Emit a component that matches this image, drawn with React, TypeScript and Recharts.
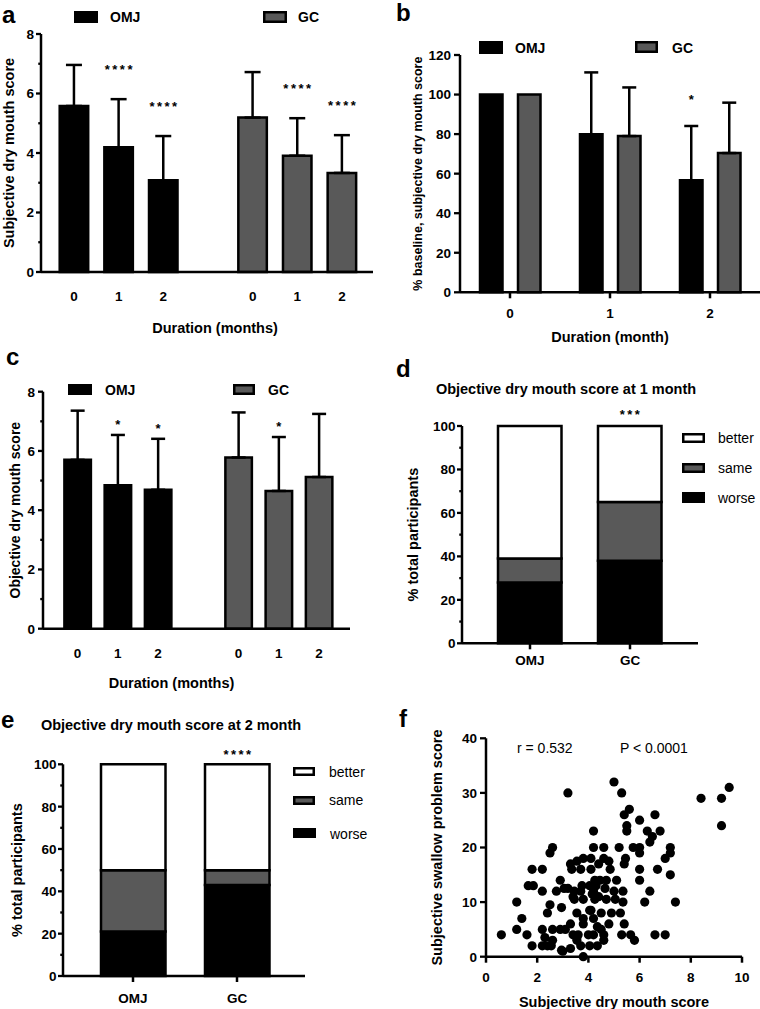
import React from "react";
import {
  Bar,
  BarChart,
  Cell,
  ErrorBar,
  LabelList,
  Scatter,
  ScatterChart,
  XAxis,
  YAxis,
} from "recharts";

const FONT = "'Liberation Sans', Arial, Helvetica, sans-serif";
const BLACK = "#000000";
const GREY = "#595959";

// a, c: OMJ months 0-2, empty slot, GC months 0-2
const durationLabels = ["0", "1", "2", "", "0", "1", "2"];
const durationGroup = ["OMJ", "OMJ", "OMJ", "", "GC", "GC", "GC"];

const subjectiveMean = [5.58, 4.19, 3.08, null, 5.19, 3.91, 3.33];
const subjectiveSd = [1.38, 1.62, 1.49, null, 1.53, 1.26, 1.27];
const subjectiveSig = ["", "****", "****", "", "", "****", "****"];

const objectiveMean = [5.7, 4.84, 4.69, null, 5.78, 4.65, 5.12];
const objectiveSd = [1.66, 1.7, 1.72, null, 1.52, 1.82, 2.13];
const objectiveSig = ["", "*", "*", "", "", "*", ""];

// b: % of baseline
const baselineMonths = ["0", "1", "2"];
const baselineOmj = [100, 79.9, 56.6];
const baselineOmjSd = [0, 31.3, 27.5];
const baselineGc = [100, 79.0, 70.4];
const baselineGcSd = [0, 24.6, 25.5];
const baselineSig = ["", "", "*"];

// d, e: change in objective score
const groups = ["OMJ", "GC"];
const month1Worse = [28, 38];
const month1Same = [11, 27];
const month1Better = [61, 35];
const month1Sig = ["", "***"];
const month2Worse = [21, 43];
const month2Same = [29, 7];
const month2Better = [50, 50];
const month2Sig = ["", "****"];

// f: dry mouth vs swallow problem
const dryMouth = [
  5.0, 3.2, 5.3, 8.4, 9.2, 9.5, 5.6, 5.4, 6.6, 6.0, 5.5, 9.2, 4.2, 5.5, 6.3, 6.8, 6.5, 6.4,
  2.6, 4.2, 4.6, 5.2, 5.75, 6.0, 7.2, 2.5, 6.0, 7.2, 3.8, 4.1, 4.6, 5.45, 7.0, 3.3, 3.55,
  4.4, 4.8, 5.4, 1.8, 2.2, 3.35, 3.7, 4.1, 4.85, 6.0, 6.7, 7.2, 2.9, 4.25, 4.45, 4.7, 5.1,
  6.0, 1.65, 1.85, 3.75, 4.3, 4.65, 2.2, 2.75, 3.05, 3.2, 3.45, 3.7, 4.05, 4.2, 5.0, 5.35,
  6.4, 4.15, 4.4, 3.45, 3.8, 1.2, 4.25, 4.7, 5.05, 5.35, 6.2, 7.4, 2.4, 2.5, 2.95, 4.05,
  4.5, 4.9, 5.25, 3.55, 1.4, 3.8, 4.2, 3.3, 3.8, 4.35, 4.8, 5.4, 1.2, 2.2, 2.6, 2.9, 3.1,
  4.5, 0.6, 1.6, 3.4, 3.6, 4.2, 4.6, 5.3, 5.65, 6.6, 7.0, 2.3, 2.6, 3.55, 4.6, 5.8, 1.8,
  2.2, 2.4, 2.55, 3.7, 4.05, 4.35, 3.0, 3.3, 3.8, 2.95, 3.55, 4.0, 3.4, 4.1,
];
const swallowProblem = [
  32, 30, 30, 29, 29, 31, 27, 26, 26, 25, 24, 24, 23, 23, 23, 23, 22, 21,
  20, 20, 20, 20, 20, 20, 20, 19, 19, 19, 18, 18, 18, 18, 18, 17, 17.5,
  17, 17.5, 17, 16, 16, 16, 16, 16, 16, 16, 16, 15, 14, 14, 14, 14, 14,
  14, 13, 13, 13, 13, 12.5, 12, 12, 12.5, 12.5, 12, 12, 13, 12, 12, 12,
  12, 11.5, 11, 10.5, 10.5, 10, 10.5, 10.5, 10.5, 10, 10, 10, 8, 9.5, 9, 8.5,
  8, 8, 8, 8, 7, 7, 7, 6, 6, 5.5, 6, 6, 5, 5, 5, 5, 5,
  5, 4, 4, 4, 4, 4, 4, 4, 4, 4, 4, 3.5, 3, 3.5, 3, 3, 2,
  2, 2, 2, 2, 2, 2, 1, 1.5, 0, 1.2, 3, 4, 11, 8.5,
];

const toErr = (sd: number | null) => (sd ? [0, sd] : 0);

// each row carries its slot number so the star labels can find their own entry
const subjectiveRows = durationLabels.map((label, i) => ({
  slot: i,
  label,
  group: durationGroup[i],
  mean: subjectiveMean[i],
  err: toErr(subjectiveSd[i]),
}));

const objectiveRows = durationLabels.map((label, i) => ({
  slot: i,
  label,
  group: durationGroup[i],
  mean: objectiveMean[i],
  err: toErr(objectiveSd[i]),
}));

const baselineRows = baselineMonths.map((month, i) => ({
  slot: i,
  month,
  omj: baselineOmj[i],
  omjErr: toErr(baselineOmjSd[i]),
  gc: baselineGc[i],
  gcErr: toErr(baselineGcSd[i]),
}));

const month1Rows = groups.map((group, i) => ({
  slot: i,
  group,
  worse: month1Worse[i],
  same: month1Same[i],
  better: month1Better[i],
}));

const month2Rows = groups.map((group, i) => ({
  slot: i,
  group,
  worse: month2Worse[i],
  same: month2Same[i],
  better: month2Better[i],
}));

const scatterRows = dryMouth.map((x, i) => ({ x, y: swallowProblem[i] }));

const axisLine = { stroke: BLACK, strokeWidth: 2.5 };
const tickLine = { stroke: BLACK, strokeWidth: 2.5 };
const tickText = { fill: BLACK, fontSize: 13.5, fontWeight: 700, fontFamily: FONT };
const titleText = { fill: BLACK, fontSize: 14.5, fontWeight: 700, fontFamily: FONT };

const range = (from: number, to: number, step: number) => {
  const out: number[] = [];
  for (let v = from; v <= to + 1e-9; v += step) out.push(v);
  return out;
};

// y ticks with labels on the major step, short unlabeled ticks between
const leftTick = (labelEvery: number, size: number, gap: number) => (p: any) => {
  const v = Number(p.payload.value);
  const major = Math.abs(v / labelEvery - Math.round(v / labelEvery)) < 1e-6;
  const ax = p.x + size + gap;
  const len = major ? size : size * 0.55;
  return (
    <g>
      <line x1={ax - len} x2={ax} y1={p.y} y2={p.y} stroke={BLACK} strokeWidth={2.3} />
      {major && (
        <text
          x={p.x}
          y={p.y}
          dy="0.36em"
          textAnchor="end"
          fontSize={13.5}
          fontWeight={700}
          fontFamily={FONT}
          fill={BLACK}
        >
          {v}
        </text>
      )}
    </g>
  );
};

// significance stars above the error bar (height read through the bar's own scale)
const starLabel =
  (means: (number | null)[], sds: (number | null)[], sigs: string[], gap: number, spacing = 2.5) =>
  (p: any) => {
    const i = Number(p.value);
    const sig = sigs[i];
    if (!sig) return null;
    const vb = p.viewBox || p;
    const m = means[i] || 0;
    const sd = sds[i] || 0;
    const top = m > 0 ? vb.y - (sd * vb.height) / m : vb.y;
    return (
      <text
        x={vb.x + vb.width / 2 + spacing / 2}
        y={top - gap}
        textAnchor="middle"
        fontSize={13}
        fontWeight={700}
        fontFamily={FONT}
        fill={BLACK}
        letterSpacing={spacing}
      >
        {sig}
      </text>
    );
  };

const zeros = [0, 0];

function Overlay() {
  const letter = { fontFamily: FONT, fontWeight: 700, fontSize: 24, fill: BLACK };
  const legend = { fontFamily: FONT, fontWeight: 700, fontSize: 14, fill: BLACK };
  const plain = { fontFamily: FONT, fontWeight: 400, fontSize: 14, fill: BLACK };
  const box = (x: number, y: number, w: number, h: number, fill: string) => (
    <rect x={x + 1.25} y={y + 1.25} width={w - 2.5} height={h - 2.5} fill={fill} stroke={BLACK} strokeWidth={2.5} />
  );
  return (
    <svg
      width={760}
      height={1009}
      style={{ position: "absolute", left: 0, top: 0, pointerEvents: "none" }}
    >
      <text x={2} y={23} {...letter}>a</text>
      <text x={396} y={21} {...letter}>b</text>
      <text x={6} y={365} {...letter}>c</text>
      <text x={396} y={377} {...letter}>d</text>
      <text x={1} y={728} {...letter}>e</text>
      <text x={399} y={727} {...letter}>f</text>

      {box(74, 11, 24, 12, BLACK)}
      <text x={110} y={22} {...legend}>OMJ</text>
      {box(263, 11, 24, 12, GREY)}
      <text x={298} y={22} {...legend}>GC</text>

      {box(479, 41, 24, 13, BLACK)}
      <text x={515} y={53} {...legend}>OMJ</text>
      {box(635, 41, 23, 12, GREY)}
      <text x={672} y={53} {...legend}>GC</text>

      {box(68, 384, 24, 11, BLACK)}
      <text x={105} y={395} {...legend}>OMJ</text>
      {box(233, 384, 22, 11, GREY)}
      <text x={268} y={395} {...legend}>GC</text>

      <text x={566} y={393.5} textAnchor="middle" {...titleText}>
        Objective dry mouth score at 1 month
      </text>
      {box(682, 433, 23, 10, "#ffffff")}
      <text x={718} y={443} {...plain}>better</text>
      {box(682, 463, 23, 10, GREY)}
      <text x={718} y={473} {...plain}>same</text>
      {box(682, 492, 23, 11, BLACK)}
      <text x={718} y={503} {...plain}>worse</text>

      <text x={171} y={729.5} textAnchor="middle" {...titleText}>
        Objective dry mouth score at 2 month
      </text>
      {box(293, 767, 22, 9, "#ffffff")}
      <text x={329} y={777} {...plain}>better</text>
      {box(293, 796, 22, 9, GREY)}
      <text x={329} y={805} {...plain}>same</text>
      {box(293, 828, 23, 10, BLACK)}
      <text x={330} y={839} {...plain}>worse</text>

      <text x={517} y={753} {...plain}>r = 0.532</text>
      <text x={620} y={753} {...plain}>P &lt; 0.0001</text>
    </svg>
  );
}

export default function App() {
  return (
    <div
      style={{
        position: "absolute",
        left: 0,
        top: 0,
        width: 760,
        height: 1009,
        background: "#ffffff",
        overflow: "hidden",
      }}
    >
      {/* a */}
      <div style={{ position: "absolute", left: 0, top: 0 }}>
        <BarChart width={380} height={340} data={subjectiveRows} margin={{ top: 34, right: 7, bottom: 0, left: 0 }}>
          <XAxis
            dataKey="label"
            height={68}
            padding={{ left: 10.7, right: 8.7 }}
            axisLine={axisLine}
            tickLine={false}
            tickSize={6}
            tickMargin={13.5}
            tick={tickText}
            interval={0}
            label={{
              value: "Duration (months)",
              position: "insideBottom",
              offset: 7,
              style: { ...titleText, transform: "translateX(8px)" },
            }}
          />
          <YAxis
            width={41}
            domain={[0, 8]}
            ticks={range(0, 8, 1)}
            interval={0}
            axisLine={axisLine}
            tickLine={false}
            tickSize={5}
            tickMargin={2}
            tick={leftTick(2, 5, 2)}
            label={{
              value: "Subjective dry mouth score",
              angle: -90,
              position: "insideLeft",
              offset: 9,
              style: { ...titleText, textAnchor: "middle" },
            }}
          />
          <Bar dataKey="mean" barSize={28.5} stroke={BLACK} strokeWidth={2.5} isAnimationActive={false}>
            {subjectiveRows.map((r, i) => (
              <Cell key={i} fill={r.group === "GC" ? GREY : BLACK} />
            ))}
            <ErrorBar dataKey="err" direction="y" width={8} stroke={BLACK} strokeWidth={2.5} />
            <LabelList dataKey="slot" content={starLabel(subjectiveMean, subjectiveSd, subjectiveSig, 25)} />
          </Bar>
        </BarChart>
      </div>

      {/* b */}
      <div style={{ position: "absolute", left: 380, top: 0 }}>
        <BarChart
          width={380}
          height={350}
          data={baselineRows}
          margin={{ top: 55, right: 0, bottom: 0, left: 0 }}
          barGap={15.5}
        >
          <XAxis
            dataKey="month"
            height={57.7}
            axisLine={axisLine}
            tickLine={tickLine}
            tickSize={6}
            tickMargin={10}
            tick={tickText}
            interval={0}
            label={{ value: "Duration (month)", position: "insideBottom", offset: 8, style: titleText }}
          />
          <YAxis
            width={80}
            domain={[0, 120]}
            ticks={range(0, 120, 20)}
            interval={0}
            axisLine={axisLine}
            tickLine={false}
            tickSize={6}
            tickMargin={3}
            tick={leftTick(20, 6, 3)}
            label={{
              value: "% baseline, subjective dry mouth score",
              angle: -90,
              position: "insideLeft",
              offset: 38,
              style: { ...titleText, fontSize: 12.5, textAnchor: "middle" },
            }}
          />
          <Bar dataKey="omj" barSize={22.5} fill={BLACK} stroke={BLACK} strokeWidth={2.5} isAnimationActive={false}>
            <ErrorBar dataKey="omjErr" direction="y" width={7} stroke={BLACK} strokeWidth={2.5} />
            <LabelList dataKey="slot" content={starLabel(baselineOmj, baselineOmjSd, baselineSig, 22, 0)} />
          </Bar>
          <Bar dataKey="gc" barSize={22.5} fill={GREY} stroke={BLACK} strokeWidth={2.5} isAnimationActive={false}>
            <ErrorBar dataKey="gcErr" direction="y" width={7} stroke={BLACK} strokeWidth={2.5} />
          </Bar>
        </BarChart>
      </div>

      {/* c */}
      <div style={{ position: "absolute", left: 0, top: 340 }}>
        <BarChart width={380} height={355} data={objectiveRows} margin={{ top: 51.7, right: 30, bottom: 0, left: 0 }}>
          <XAxis
            dataKey="label"
            height={66.3}
            padding={{ left: 14.4, right: 10.9 }}
            axisLine={axisLine}
            tickLine={false}
            tickSize={6}
            tickMargin={13.8}
            tick={tickText}
            interval={0}
            label={{
              value: "Duration (months)",
              position: "insideBottom",
              offset: 7,
              style: { ...titleText, transform: "translateX(-25px)" },
            }}
          />
          <YAxis
            width={43}
            domain={[0, 8]}
            ticks={range(0, 8, 1)}
            interval={0}
            axisLine={axisLine}
            tickLine={false}
            tickSize={5}
            tickMargin={3}
            tick={leftTick(2, 5, 3)}
            label={{
              value: "Objective dry mouth score",
              angle: -90,
              position: "insideLeft",
              offset: 15,
              style: { ...titleText, fontSize: 14, textAnchor: "middle" },
            }}
          />
          <Bar dataKey="mean" barSize={26.5} stroke={BLACK} strokeWidth={2.5} isAnimationActive={false}>
            {objectiveRows.map((r, i) => (
              <Cell key={i} fill={r.group === "GC" ? GREY : BLACK} />
            ))}
            <ErrorBar dataKey="err" direction="y" width={7} stroke={BLACK} strokeWidth={2.5} />
            <LabelList dataKey="slot" content={starLabel(objectiveMean, objectiveSd, objectiveSig, 6, 0)} />
          </Bar>
        </BarChart>
      </div>

      {/* d */}
      <div style={{ position: "absolute", left: 380, top: 340 }}>
        <BarChart width={380} height={330} data={month1Rows} margin={{ top: 86, right: 62, bottom: 0, left: 0 }}>
          <XAxis
            dataKey="group"
            height={26.7}
            padding={{ left: 18, right: 18 }}
            axisLine={axisLine}
            tickLine={tickLine}
            tickSize={6}
            tickMargin={6}
            tick={tickText}
            interval={0}
          />
          <YAxis
            width={82}
            domain={[0, 100]}
            ticks={range(0, 100, 10)}
            interval={0}
            axisLine={axisLine}
            tickLine={false}
            tickSize={5}
            tickMargin={1.5}
            tick={leftTick(20, 5, 1.5)}
            label={{
              value: "% total participants",
              angle: -90,
              position: "insideLeft",
              offset: 33,
              style: { ...titleText, textAnchor: "middle" },
            }}
          />
          <Bar dataKey="worse" stackId="s" barSize={63.5} fill={BLACK} stroke={BLACK} strokeWidth={2.5} isAnimationActive={false} />
          <Bar dataKey="same" stackId="s" barSize={63.5} fill={GREY} stroke={BLACK} strokeWidth={2.5} isAnimationActive={false} />
          <Bar dataKey="better" stackId="s" barSize={63.5} fill="#ffffff" stroke={BLACK} strokeWidth={2.5} isAnimationActive={false}>
            <LabelList dataKey="slot" content={starLabel(month1Better, zeros, month1Sig, 7)} />
          </Bar>
        </BarChart>
      </div>

      {/* e */}
      <div style={{ position: "absolute", left: 0, top: 670 }}>
        <BarChart width={380} height={339} data={month2Rows} margin={{ top: 94.3, right: 75, bottom: 0, left: 0 }}>
          <XAxis
            dataKey="group"
            height={33}
            padding={{ left: 18, right: 16 }}
            axisLine={axisLine}
            tickLine={tickLine}
            tickSize={6}
            tickMargin={11.5}
            tick={tickText}
            interval={0}
          />
          <YAxis
            width={63}
            domain={[0, 100]}
            ticks={range(0, 100, 10)}
            interval={0}
            axisLine={axisLine}
            tickLine={false}
            tickSize={5}
            tickMargin={1.5}
            tick={leftTick(20, 5, 1.5)}
            label={{
              value: "% total participants",
              angle: -90,
              position: "insideLeft",
              offset: 17,
              style: { ...titleText, textAnchor: "middle" },
            }}
          />
          <Bar dataKey="worse" stackId="s" barSize={64.5} fill={BLACK} stroke={BLACK} strokeWidth={2.5} isAnimationActive={false} />
          <Bar dataKey="same" stackId="s" barSize={64.5} fill={GREY} stroke={BLACK} strokeWidth={2.5} isAnimationActive={false} />
          <Bar dataKey="better" stackId="s" barSize={64.5} fill="#ffffff" stroke={BLACK} strokeWidth={2.5} isAnimationActive={false}>
            <LabelList dataKey="slot" content={starLabel(month2Better, zeros, month2Sig, 5.5)} />
          </Bar>
        </BarChart>
      </div>

      {/* f */}
      <div style={{ position: "absolute", left: 380, top: 670 }}>
        <ScatterChart width={380} height={339} margin={{ top: 68.3, right: 18, bottom: 0, left: 0 }}>
          <XAxis
            type="number"
            dataKey="x"
            domain={[0, 10]}
            ticks={range(0, 10, 2)}
            interval={0}
            height={52.3}
            axisLine={axisLine}
            tickLine={tickLine}
            tickSize={6}
            tickMargin={10}
            tick={tickText}
            label={{ value: "Subjective dry mouth score", position: "insideBottom", offset: 2, style: titleText }}
          />
          <YAxis
            type="number"
            dataKey="y"
            domain={[0, 40]}
            ticks={range(0, 40, 10)}
            interval={0}
            width={106}
            axisLine={axisLine}
            tickLine={false}
            tickSize={6}
            tickMargin={3}
            tick={leftTick(10, 6, 3)}
            label={{
              value: "Subjective swallow problem score",
              angle: -90,
              position: "insideLeft",
              offset: 57,
              style: { ...titleText, textAnchor: "middle" },
            }}
          />
          <Scatter
            data={scatterRows}
            fill={BLACK}
            isAnimationActive={false}
            shape={(p: any) => <circle cx={p.cx} cy={p.cy} r={4.6} fill={BLACK} />}
          />
        </ScatterChart>
      </div>

      <Overlay />
    </div>
  );
}
